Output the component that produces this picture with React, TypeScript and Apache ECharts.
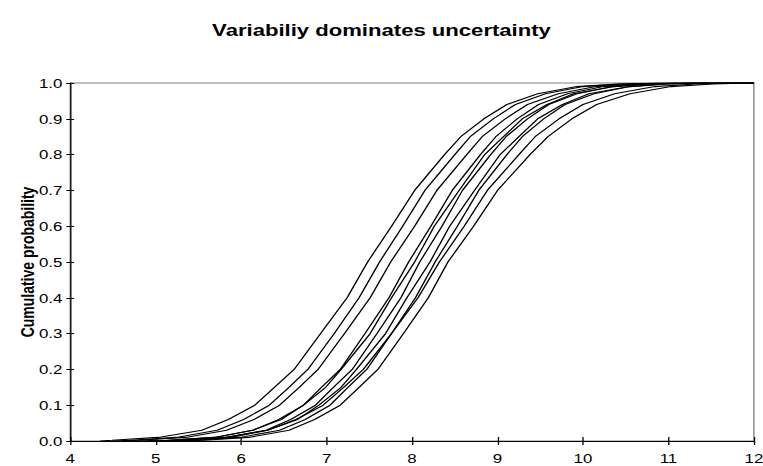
import React, { useEffect, useRef } from "react";
import * as echarts from "echarts";

const titleText = "Variabiliy dominates uncertainty";
const yAxisName = "Cumulative probability";
const xTicks = { min: 4, max: 12, interval: 1 };
const yTicks = { min: 0, max: 1, interval: 0.1 };

// cumulative probability levels shared by all curves
const probs = [0, 0.002, 0.01, 0.03, 0.06, 0.1, 0.15, 0.2, 0.3, 0.4, 0.5, 0.6, 0.7, 0.8, 0.85, 0.9, 0.94, 0.97, 0.99, 0.997, 1, 1];

// x value of each curve at the probability levels above
const curveA = [4.35, 4.49, 5.03, 5.54, 5.85, 6.16, 6.39, 6.62, 6.93, 7.24, 7.48, 7.76, 8.03, 8.38, 8.57, 8.84, 9.11, 9.47, 9.93, 10.40, 10.90, 12];
const curveB = [4.50, 4.71, 5.24, 5.72, 6.03, 6.33, 6.56, 6.78, 7.09, 7.38, 7.62, 7.89, 8.15, 8.50, 8.68, 8.95, 9.21, 9.56, 10.00, 10.45, 11.00, 12];
const curveC = [4.60, 4.80, 5.35, 5.83, 6.15, 6.45, 6.68, 6.90, 7.21, 7.51, 7.75, 8.03, 8.29, 8.64, 8.82, 9.09, 9.35, 9.71, 10.15, 10.60, 11.10, 12];
const curveD = [4.90, 5.16, 5.68, 6.14, 6.44, 6.73, 6.94, 7.16, 7.45, 7.73, 7.96, 8.22, 8.47, 8.80, 8.98, 9.23, 9.48, 9.82, 10.24, 10.68, 11.20, 12];
const curveE = [4.80, 5.13, 5.70, 6.13, 6.47, 6.73, 6.99, 7.17, 7.51, 7.76, 8.03, 8.26, 8.55, 8.85, 9.07, 9.29, 9.58, 9.89, 10.36, 10.76, 11.30, 12];
const curveF = [5.00, 5.32, 5.83, 6.29, 6.58, 6.87, 7.08, 7.30, 7.59, 7.87, 8.09, 8.35, 8.59, 8.92, 9.10, 9.35, 9.60, 9.93, 10.35, 10.78, 11.30, 12];
const curveG = [5.00, 5.31, 5.88, 6.31, 6.66, 6.91, 7.17, 7.35, 7.69, 7.94, 8.21, 8.44, 8.73, 9.03, 9.25, 9.47, 9.76, 10.07, 10.54, 10.94, 11.50, 12];
const curveH = [5.20, 5.47, 5.99, 6.45, 6.75, 7.04, 7.25, 7.47, 7.76, 8.04, 8.27, 8.53, 8.78, 9.11, 9.29, 9.54, 9.79, 10.13, 10.55, 10.99, 11.50, 12];
const curveI = [4.90, 5.23, 5.80, 6.31, 6.64, 6.96, 7.20, 7.43, 7.76, 8.07, 8.32, 8.61, 8.88, 9.25, 9.44, 9.72, 10.00, 10.37, 10.84, 11.31, 11.80, 12];
const curveJ = [5.30, 5.56, 6.09, 6.56, 6.86, 7.16, 7.38, 7.60, 7.90, 8.19, 8.42, 8.72, 9.00, 9.38, 9.59, 9.87, 10.16, 10.55, 11.03, 11.52, 11.95, 12];

const curves = [curveA, curveB, curveC, curveD, curveE, curveF, curveG, curveH, curveI, curveJ];

const FONT = "Arial, 'Liberation Sans', Helvetica, sans-serif";
const STRETCH = 763 / 587;

export default function App() {
  const ref = useRef<HTMLDivElement>(null);
  useEffect(() => {
    if (!ref.current) return;
    const chart = echarts.init(ref.current, null, { renderer: "svg" });
    const axisCommon = {
      type: "value" as const,
      splitLine: { show: false },
    };
    chart.setOption({
      animation: false,
      backgroundColor: "#fff",
      title: {
        text: titleText,
        left: "center",
        top: 21,
        padding: 0,
        textStyle: { fontSize: 17, fontWeight: "bold", fontFamily: FONT, color: "#000" },
      },
      grid: {
        left: 54,
        right: 7,
        top: 83,
        bottom: 25,
        show: true,
        borderColor: "#808080",
        borderWidth: 1,
        backgroundColor: "transparent",
        outerBoundsMode: "none",
      },
      xAxis: [
        {
          ...axisCommon,
          ...xTicks,
          axisLine: { show: true, onZero: false, lineStyle: { color: "#000", width: 1 } },
          axisTick: { show: true, inside: false, length: 4, lineStyle: { color: "#000" } },
          axisLabel: { color: "#000", fontSize: 13, fontFamily: FONT, margin: 11 },
        },
        {
          ...axisCommon,
          ...xTicks,
          position: "bottom",
          axisLine: { show: false },
          axisTick: { show: true, inside: true, length: 4, lineStyle: { color: "#000" } },
          axisLabel: { show: false },
        },
      ],
      yAxis: [
        {
          ...axisCommon,
          ...yTicks,
          name: yAxisName,
          nameLocation: "middle",
          nameGap: 26,
          nameRotate: 90,
          nameMoveOverlap: false,
          nameTextStyle: { fontSize: 14, fontWeight: "bold", fontFamily: FONT, color: "#000" },
          axisLine: { show: true, onZero: false, lineStyle: { color: "#000", width: 1 } },
          axisTick: { show: true, inside: false, length: 3, lineStyle: { color: "#000" } },
          axisLabel: {
            color: "#000",
            fontSize: 13,
            fontFamily: FONT,
            margin: 6,
            formatter: (v: number) => v.toFixed(1),
          },
        },
        {
          ...axisCommon,
          ...yTicks,
          position: "left",
          axisLine: { show: false },
          axisTick: { show: true, inside: true, length: 3, lineStyle: { color: "#000" } },
          axisLabel: { show: false },
        },
      ],
      series: curves.map((xs, i) => ({
        type: "line",
        name: "curve" + (i + 1),
        data: xs.map((x, k) => [x, probs[k]]),
        showSymbol: false,
        symbol: "none",
        smooth: false,
        lineStyle: { color: "#000", width: 1.1 },
        z: 3,
      })),
    });
    return () => chart.dispose();
  }, []);

  return (
    <div style={{ position: "fixed", left: 0, top: 0, width: 763, height: 466, overflow: "hidden", background: "#fff" }}>
      <div
        ref={ref}
        style={{
          width: 587,
          height: 466,
          transform: `scale(${STRETCH}, 1)`,
          transformOrigin: "0 0",
        }}
      />
    </div>
  );
}
